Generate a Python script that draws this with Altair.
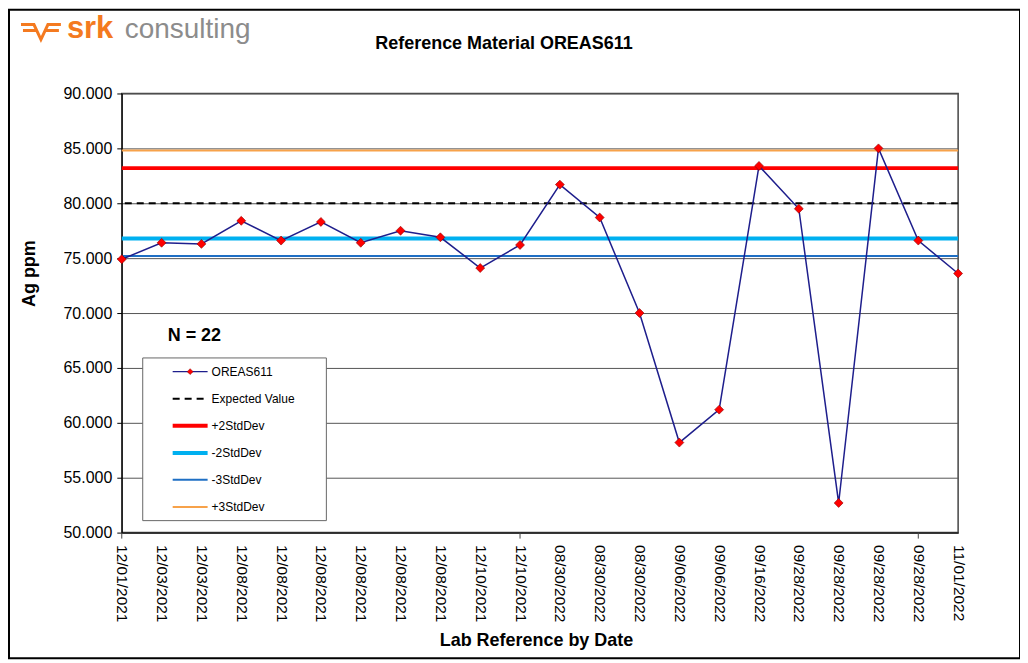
import json
import altair as alt
import pandas as pd

# ---- data ----
dates = ["12/01/2021", "12/03/2021", "12/03/2021", "12/08/2021", "12/08/2021",
         "12/08/2021", "12/08/2021", "12/08/2021", "12/08/2021", "12/10/2021",
         "12/10/2021", "08/30/2022", "08/30/2022", "08/30/2022", "09/06/2022",
         "09/06/2022", "09/16/2022", "09/28/2022", "09/28/2022", "09/28/2022",
         "09/28/2022", "11/01/2022"]
values = [74.9, 76.4, 76.3, 78.4, 76.6, 78.3, 76.4, 77.5, 76.9, 74.1, 76.2,
          81.7, 78.7, 70.0, 58.2, 61.2, 83.4, 79.5, 52.7, 85.0, 76.6, 73.6]
ref_names = ["+3StdDev", "+2StdDev", "Expected Value", "-2StdDev", "-3StdDev"]
ref_values = [84.8, 83.2, 80.0, 76.8, 75.2]
tick_idx = [0, 10, 20]

FONT = "Liberation Sans"
NAVY = "#1E1E8C"
RED = "#FF0000"
CYAN = "#00B0F0"
BLUE = "#1F6FC4"
ORANGE = "#F7A24A"
LOGO_ORANGE = "#F47A20"

ref_style = {
    "+3StdDev": dict(color=ORANGE, strokeWidth=2),
    "+2StdDev": dict(color=RED, strokeWidth=4),
    "Expected Value": dict(color="black", strokeWidth=2, strokeDash=[7, 5]),
    "-2StdDev": dict(color=CYAN, strokeWidth=4),
    "-3StdDev": dict(color=BLUE, strokeWidth=2),
}

df = pd.DataFrame({"idx": list(range(len(values))), "value": values, "date": dates})
refs = pd.DataFrame({"name": ref_names, "value": ref_values})
one = pd.DataFrame({"k": [0]})

xscale = alt.Scale(domain=[0, len(values) - 1], nice=False, zero=False)
yscale = alt.Scale(domain=[50, 90], nice=False, zero=False)

label_expr = json.dumps(dates) + "[datum.value]"

x_axis = alt.Axis(values=list(range(len(values))), labelExpr=label_expr,
                  labelAngle=90, labelAlign="left", labelBaseline="middle",
                  labelFontSize=15.5, labelPadding=12, ticks=False, grid=False,
                  labelFlush=False, labelOverlap=False,
                  title="Lab Reference by Date", titleFontSize=18,
                  titleFontWeight="bold", titleX=415, titleY=108,
                  titleAlign="center", titleBaseline="middle")
y_axis = alt.Axis(values=list(range(50, 91, 5)), format=".3f", labelFontSize=16,
                  tickSize=5, labelPadding=5, grid=True,
                  title="Ag ppm", titleFontSize=18, titleFontWeight="bold",
                  titleX=-92, titleY=180, titleAlign="center",
                  titleBaseline="middle", titleAngle=-90)

X = alt.X("idx:Q", scale=xscale, axis=x_axis, title="Lab Reference by Date")
Y = alt.Y("value:Q", scale=yscale, axis=y_axis, title="Ag ppm")

layers = []

# reference lines
for name in ref_names:
    st = ref_style[name]
    layers.append(
        alt.Chart(refs[refs["name"] == name]).mark_rule(**st).encode(y=Y)
    )

# x tick marks every 10 categories
layers.append(
    alt.Chart(pd.DataFrame({"idx": tick_idx})).mark_rule(color="#444", strokeWidth=1).encode(
        x=X, y=alt.value(440), y2=alt.value(446)
    )
)

# series line and markers
layers.append(alt.Chart(df).mark_line(color=NAVY, strokeWidth=1.5).encode(x=X, y=Y))
layers.append(
    alt.Chart(df).mark_point(shape="diamond", filled=True, fill=RED, size=80,
                             stroke="#8a0000", strokeWidth=0.6, opacity=1).encode(x=X, y=Y)
)

# legend box
layers.append(
    alt.Chart(one).mark_rect(fill="white", stroke="#666", strokeWidth=1).encode(
        x=alt.value(21), x2=alt.value(205), y=alt.value(265), y2=alt.value(428)
    )
)
legend_items = ["OREAS611", "Expected Value", "+2StdDev", "-2StdDev", "-3StdDev", "+3StdDev"]
legend_y = [278.7, 306, 333, 360.3, 387, 414.3]
for lab, ly in zip(legend_items, legend_y):
    if lab == "OREAS611":
        st = dict(color=NAVY, strokeWidth=1.5)
    else:
        st = dict(ref_style[lab])
    layers.append(
        alt.Chart(one).mark_rule(**st).encode(
            x=alt.value(51), x2=alt.value(86), y=alt.value(ly)
        )
    )
    if lab == "OREAS611":
        layers.append(
            alt.Chart(one).mark_point(shape="diamond", filled=True, fill=RED, size=35,
                                      stroke="#8a0000", strokeWidth=0.5, opacity=1).encode(
                x=alt.value(68.5), y=alt.value(ly)
            )
        )
    layers.append(
        alt.Chart(one).mark_text(font=FONT, fontSize=12, align="left", baseline="middle",
                                 color="black").encode(
            x=alt.value(90), y=alt.value(ly), text=alt.value(lab)
        )
    )

# N = 22
layers.append(
    alt.Chart(one).mark_text(font=FONT, fontSize=18, fontWeight="bold", align="left",
                             baseline="middle", color="black").encode(
        x=alt.value(46), y=alt.value(243), text=alt.value("N = %d" % len(values))
    )
)

# title
layers.append(
    alt.Chart(one).mark_text(font=FONT, fontSize=18, fontWeight="bold", align="center",
                             baseline="middle", color="black").encode(
        x=alt.value(383), y=alt.value(-50), text=alt.value("Reference Material OREAS611")
    )
)

# logo
icon_path = ("M -1 -0.3 L -0.35 -0.3 L 0 0.45 L 0.35 -0.3 L 1 -0.3 "
             "M -0.9 0 L -0.25 0 M 0.25 0 L 0.9 0")
layers.append(
    alt.Chart(one).mark_point(shape=icon_path, filled=False, stroke=LOGO_ORANGE,
                              strokeWidth=3, size=1600, opacity=1).encode(
        x=alt.value(-81), y=alt.value(-63)
    )
)
layers.append(
    alt.Chart(one).mark_text(font=FONT, fontSize=31, fontWeight="bold", align="left",
                             baseline="alphabetic", color=LOGO_ORANGE).encode(
        x=alt.value(-55), y=alt.value(-56), text=alt.value("srk")
    )
)
layers.append(
    alt.Chart(one).mark_text(font=FONT, fontSize=28, align="left",
                             baseline="alphabetic", color="#8C8C8C").encode(
        x=alt.value(3), y=alt.value(-56), text=alt.value("consulting")
    )
)

# outer frame
layers.append(
    alt.Chart(one).mark_rect(fillOpacity=0, stroke="black", strokeWidth=2).encode(
        x=alt.value(-113), x2=alt.value(900), y=alt.value(-84), y2=alt.value(566)
    )
)

chart = alt.layer(*layers).properties(
    width=838, height=440,
    padding={"left": 114, "top": 85, "right": 62, "bottom": 127},
    autosize=alt.AutoSizeParams(type="none"),
).configure(background="white").configure_view(
    stroke="#444", strokeWidth=1.5
).configure_axis(
    labelFont=FONT, titleFont=FONT, labelColor="black", titleColor="black",
    domainColor="black", tickColor="black", gridColor="#555", gridWidth=1,
    domainWidth=1
)

chart.save("out.html", embed_options={"renderer": "svg", "actions": False})
